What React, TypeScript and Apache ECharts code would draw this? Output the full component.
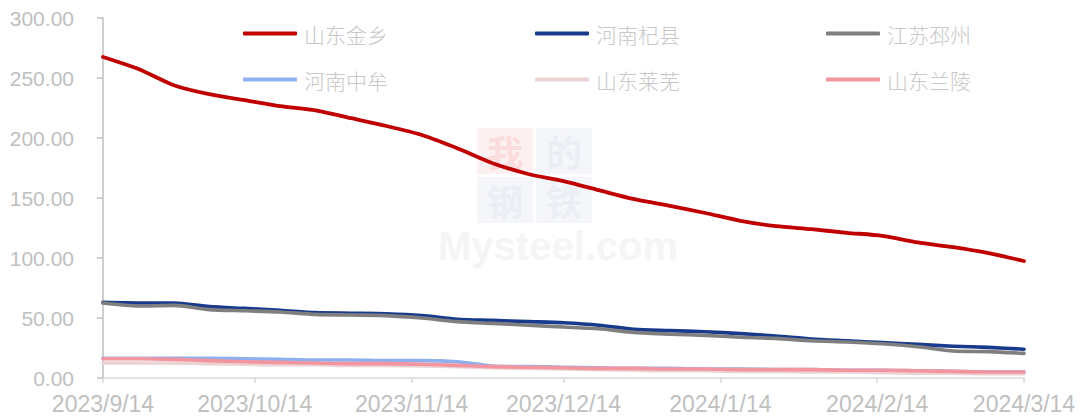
import React, { useEffect, useRef } from "react";
import * as echarts from "echarts";

const dates = [
  "2023-09-14", "2023-09-21", "2023-09-28", "2023-10-05", "2023-10-12", "2023-10-19", "2023-10-26",
  "2023-11-02", "2023-11-09", "2023-11-16", "2023-11-23", "2023-11-30", "2023-12-07", "2023-12-14",
  "2023-12-21", "2023-12-28", "2024-01-04", "2024-01-11", "2024-01-18", "2024-01-25", "2024-02-01",
  "2024-02-08", "2024-02-15", "2024-02-22", "2024-02-29", "2024-03-07", "2024-03-14",
];

const tickDates = ["2023-09-14", "2023-10-14", "2023-11-14", "2023-12-14", "2024-01-14", "2024-02-14", "2024-03-14"];

const jinxiang = [267.5, 257.5, 244, 236.5, 231.5, 226.5, 223, 216.5, 210, 202.5, 191.5, 179, 170, 164, 156.5, 149, 143.5, 137.5, 131, 126.5, 124, 121, 118.5, 113, 109, 104, 97.5];
const qixian = [63, 62.5, 62.5, 59.5, 58, 56.5, 54.5, 54, 53.5, 52, 49, 48, 47, 46, 44, 40.5, 39.5, 38.5, 37, 35, 32.5, 31, 29.5, 28, 26.5, 25.5, 24];
const pizhou = [62.5, 60, 60.5, 57, 56, 55, 53, 52.5, 52, 50, 47, 45.5, 44, 42.5, 41, 38, 36.5, 35.5, 34, 33, 31, 30, 28.5, 26, 22.5, 22, 20.5];
const zhongmou = [16.5, 16.5, 16.5, 16.5, 16, 15.5, 15, 15, 14.5, 14.5, 13.5, 10, 9.5, 9, 8.5, 8, 8, 7.5, 7.5, 7, 7, 6.5, 6.5, 6, 5.5, 5, 5];
const laiwu = [12.5, 12.5, 12.5, 12, 11.5, 11, 11, 10.5, 10.5, 10, 9.5, 8.5, 8, 7.5, 7, 6.5, 6, 6, 5.5, 5.5, 5, 5, 4.5, 4, 4, 3.5, 3.5];
const lanling = [16, 16, 15.5, 14.5, 13.5, 13, 12.5, 12, 12, 11.5, 10.5, 9.5, 9, 8.5, 8, 8, 7.5, 7.5, 7, 7, 7, 6.5, 6.5, 6, 5.5, 5, 5];

const seriesNames = ["山东金乡", "河南杞县", "江苏邳州", "河南中牟", "山东莱芜", "山东兰陵"];
const seriesValues = [jinxiang, qixian, pizhou, zhongmou, laiwu, lanling];
const seriesColors = ["#c00000", "#183a8c", "#7f7f7f", "#8fb0ee", "#ecd3d3", "#f2959f"];
const seriesWidths = [3.8, 3.6, 3.6, 3.6, 3.6, 3.6];

const yTicks = [0, 50, 100, 150, 200, 250, 300];

function ts(s: string): number {
  const [y, m, d] = s.split("-").map(Number);
  return new Date(y, m - 1, d).getTime();
}

export default function App() {
  const ref = useRef<HTMLDivElement>(null);
  useEffect(() => {
    if (!ref.current) return;
    const chart = echarts.init(ref.current, undefined, { renderer: "svg" });
    const tickVals = tickDates.map(ts);
    const legendPos = [
      [243, 23], [535, 23], [826, 23],
      [243, 69], [535, 69], [826, 69],
    ];
    const legends = seriesNames.map((n, i) => ({
      data: [n],
      left: legendPos[i][0],
      top: legendPos[i][1],
      padding: 0,
      icon: "roundRect",
      itemWidth: 54,
      itemHeight: 4,
      itemGap: 0,
      selectedMode: false,
      textStyle: {
        color: "#c8c8c8",
        fontSize: 21,
        fontFamily: "Noto Sans CJK SC",
        fontWeight: 300,
        padding: [0, 0, 0, 2],
      },
    }));
    chart.setOption({
      animation: false,
      backgroundColor: "#ffffff",
      legend: legends,
      graphic: [
        { type: "rect", z: -10, shape: { x: 477, y: 128, width: 56, height: 46 }, style: { fill: "#fdf0f0" } },
        { type: "rect", z: -10, shape: { x: 536, y: 128, width: 56, height: 46 }, style: { fill: "#f5f6fa" } },
        { type: "rect", z: -10, shape: { x: 477, y: 177, width: 56, height: 46 }, style: { fill: "#f5f6fa" } },
        { type: "rect", z: -10, shape: { x: 536, y: 177, width: 56, height: 46 }, style: { fill: "#f5f6fa" } },
        { type: "text", z: -9, x: 487, y: 133, style: { text: "我", fill: "#fadcdc", font: "bold 36px 'Noto Sans CJK SC'" } },
        { type: "text", z: -9, x: 546, y: 133, style: { text: "的", fill: "#eceef5", font: "bold 36px 'Noto Sans CJK SC'" } },
        { type: "text", z: -9, x: 487, y: 182, style: { text: "钢", fill: "#eceef5", font: "bold 36px 'Noto Sans CJK SC'" } },
        { type: "text", z: -9, x: 546, y: 182, style: { text: "铁", fill: "#eceef5", font: "bold 36px 'Noto Sans CJK SC'" } },
        { type: "text", z: -9, x: 438, y: 226, style: { text: "Mysteel.com", fill: "#f5f5f5", font: "bold 40px 'Liberation Sans'" } },
      ],
      grid: { left: 103, right: 57, top: 18, bottom: 39, containLabel: false },
      xAxis: {
        type: "value",
        min: ts(dates[0]),
        max: ts(dates[dates.length - 1]),
        axisLine: { show: true, lineStyle: { color: "#d9d9d9", width: 1.5 } },
        axisTick: { show: true, length: 5, lineStyle: { color: "#d9d9d9", width: 1.5 }, customValues: tickVals },
        axisLabel: {
          customValues: tickVals,
          color: "#c0c0c0",
          fontSize: 23,
          fontFamily: "Liberation Sans",
          margin: 14,
          showMinLabel: true,
          showMaxLabel: true,
          hideOverlap: false,
          formatter: (v: number) => {
            const d = new Date(v);
            return d.getFullYear() + "/" + (d.getMonth() + 1) + "/" + d.getDate();
          },
        },
        splitLine: { show: false },
      },
      yAxis: {
        type: "value",
        min: yTicks[0],
        max: yTicks[yTicks.length - 1],
        interval: 50,
        axisLine: { show: true, lineStyle: { color: "#bfbfbf", width: 1.5 } },
        axisTick: { show: true, inside: false, length: 6, lineStyle: { color: "#bfbfbf", width: 1.5 } },
        axisLabel: {
          color: "#c0c0c0",
          fontSize: 21,
          fontFamily: "Liberation Sans",
          margin: 29,
          formatter: (v: number) => v.toFixed(2),
        },
        splitLine: { show: false },
      },
      series: seriesNames.map((n, i) => ({
        name: n,
        type: "line",
        smooth: 0.25,
        symbol: "none",
        showSymbol: false,
        color: seriesColors[i],
        lineStyle: { color: seriesColors[i], width: seriesWidths[i], cap: "round", join: "round" },
        data: dates.map((d, k) => [ts(d), seriesValues[i][k]]),
        z: 2 + i,
      })),
    });
    return () => chart.dispose();
  }, []);
  return (
    <div
      ref={ref}
      style={{ position: "fixed", left: 0, top: 0, width: 1081, height: 417, background: "#fff" }}
    />
  );
}
